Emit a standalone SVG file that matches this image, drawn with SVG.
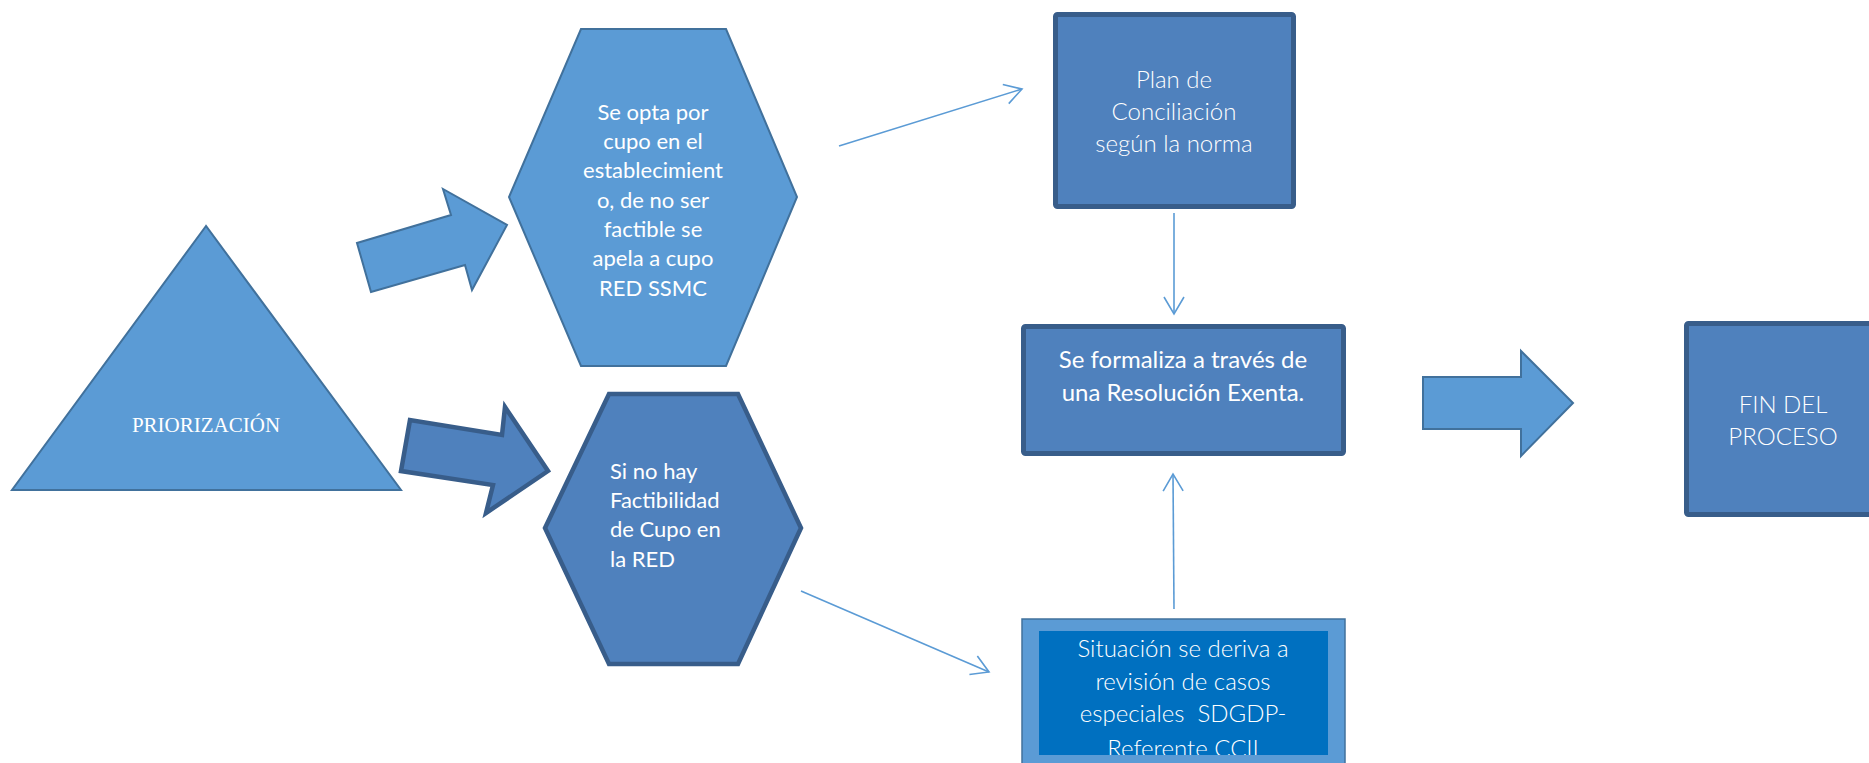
<svg xmlns="http://www.w3.org/2000/svg" width="1869" height="763" viewBox="0 0 1869 763">
<style>
.light{fill:#5B9BD5;stroke:#41719C;stroke-width:2;stroke-linejoin:miter}
.dark{fill:#4F81BD;stroke:#385D8A;stroke-width:4.5;stroke-linejoin:miter}
.box{fill:#4F81BD;stroke:#385D8A;stroke-width:5}
.t{font-family:Lato,"Open Sans","Liberation Sans",sans-serif;fill:#FFFFFF;font-size:22px}
.tl{font-family:Lato,"Open Sans","Liberation Sans",sans-serif;fill:#FFFFFF;font-size:24px;font-weight:300}
.tr{font-family:Lato,"Open Sans","Liberation Sans",sans-serif;fill:#FFFFFF;font-size:24px}
.c{text-anchor:middle}
.conn{stroke:#5B9BD5;stroke-width:1.6;fill:none}
</style>
<defs>
<marker id="open" markerUnits="userSpaceOnUse" markerWidth="40" markerHeight="40" refX="0" refY="0" viewBox="-20 -20 40 40" orient="auto" overflow="visible">
<path d="M-17,-10 L0,0 L-17,10" fill="none" stroke="#5B9BD5" stroke-width="1.6"/>
</marker>
<clipPath id="innerClip"><rect x="1039" y="631" width="289" height="124"/></clipPath>
</defs>

<g id="priorizacion">
<polygon class="light" points="206,226 12,490 401,490"/>
<text x="206" y="432" text-anchor="middle" font-family="'Liberation Serif', serif" font-size="21" font-weight="400" fill="#FFFFFF">PRIORIZACIÓN</text>
</g>

<g id="arrow-up">
<polygon class="light" points="357,243 371,292 465,265 472,290 507,225 443,189 451,215"/>
</g>

<g id="arrow-down">
<polygon class="dark" points="410,420 401,471 493,485 486,513 548,471 505,407 502,435"/>
</g>

<g id="hex-cupo">
<polygon class="light" points="581,29 726,29 797,197 726,366 581,366 509,197"/>
<text class="t c" x="653"><tspan x="653" y="120">Se opta por</tspan><tspan x="653" y="149">cupo en el</tspan><tspan x="653" y="178">establecimient</tspan><tspan x="653" y="208">o, de no ser</tspan><tspan x="653" y="237">factible se</tspan><tspan x="653" y="266">apela a cupo</tspan><tspan x="653" y="296">RED SSMC</tspan></text>
</g>

<g id="hex-red">
<polygon class="dark" points="609,394 738,394 801,528 738,664 609,664 545,528"/>
<text class="t"><tspan x="610" y="479">Si no hay</tspan><tspan x="610" y="508">Factibilidad</tspan><tspan x="610" y="537">de Cupo en</tspan><tspan x="610" y="567">la RED</tspan></text>
</g>

<g id="plan">
<rect class="box" x="1055.5" y="14.5" width="238" height="192" rx="2"/>
<text class="tl c"><tspan x="1174" y="88">Plan de</tspan><tspan x="1174" y="120">Conciliación</tspan><tspan x="1174" y="152">según la norma</tspan></text>
</g>

<g id="resolucion">
<rect class="box" x="1023.5" y="326.5" width="320" height="127" rx="2"/>
<text class="tr c"><tspan x="1183" y="368">Se formaliza a través de</tspan><tspan x="1183" y="401">una Resolución Exenta.</tspan></text>
</g>

<g id="situacion">
<rect x="1022" y="619" width="323" height="160" fill="#5B9BD5" stroke="#41719C" stroke-width="1.5"/>
<rect x="1039" y="631" width="289" height="124" fill="#0070C0"/>
<g clip-path="url(#innerClip)">
<text class="tl c"><tspan x="1183" y="657">Situación se deriva a</tspan><tspan x="1183" y="690">revisión de casos</tspan><tspan x="1183" y="722">especiales &#160;SDGDP-</tspan><tspan x="1183" y="757">Referente CCII</tspan></text>
</g>
</g>

<g id="arrow-fin">
<polygon class="light" points="1423,377 1423,429 1521,429 1521,456 1573,403 1521,351 1521,377"/>
</g>

<g id="fin">
<rect class="box" x="1686.5" y="323.5" width="200" height="191" rx="2"/>
<text class="tl c"><tspan x="1783" y="413">FIN DEL</tspan><tspan x="1783" y="445">PROCESO</tspan></text>
</g>

<g id="connectors">
<line class="conn" x1="839" y1="146" x2="1022" y2="89" marker-end="url(#open)"/>
<line class="conn" x1="1174" y1="213" x2="1174" y2="314" marker-end="url(#open)"/>
<line class="conn" x1="1174" y1="609" x2="1173" y2="474" marker-end="url(#open)"/>
<line class="conn" x1="801" y1="591" x2="989" y2="672" marker-end="url(#open)"/>
</g>
</svg>
